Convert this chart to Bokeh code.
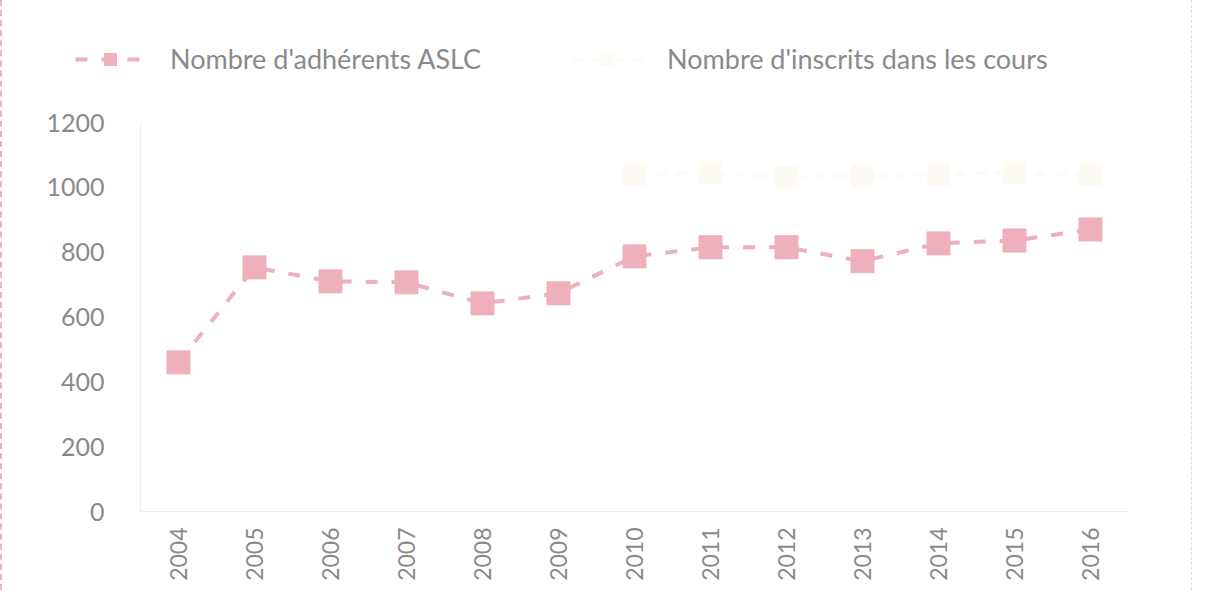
from bokeh.plotting import figure
from bokeh.layouts import column, row
from bokeh.models import FactorRange, Range1d, Legend, LegendItem, ColumnDataSource, FixedTicker
from bokeh.embed import file_html
from bokeh.resources import INLINE

years = ["2004", "2005", "2006", "2007", "2008", "2009", "2010",
         "2011", "2012", "2013", "2014", "2015", "2016"]
adherents = [460, 753, 710, 707, 642, 673, 787, 815, 815, 772, 827, 836, 870]
inscrits_years = ["2010", "2011", "2012", "2013", "2014", "2015", "2016"]
inscrits = [1040, 1045, 1030, 1035, 1040, 1045, 1040]
y_ticks = [0, 200, 400, 600, 800, 1000, 1200]
series_names = ["Nombre d'adhérents ASLC", "Nombre d'inscrits dans les cours"]

PINK = "#edb0bc"
FAINT = "#fcfaf2"
TEXT = "#8a8a8a"
FONT = "Lato"

src1 = ColumnDataSource(dict(x=years, y=adherents))
src2 = ColumnDataSource(dict(x=inscrits_years, y=inscrits))

# main chart
p = figure(width=1189, height=500, x_range=FactorRange(factors=years, range_padding=0),
           y_range=Range1d(0, 1200), output_backend="svg", toolbar_location=None,
           min_border_left=138, min_border_right=63, min_border_top=32, min_border_bottom=79)
p.outline_line_color = None
p.xgrid.grid_line_color = None
p.ygrid.grid_line_color = None

p.line("x", "y", source=src2, line_color=FAINT, line_width=4, line_dash="12 8")
p.scatter("x", "y", source=src2, marker="square", size=22, fill_color=FAINT, line_color=FAINT)
p.line("x", "y", source=src1, line_color=PINK, line_width=4, line_dash="12 14")
p.scatter("x", "y", source=src1, marker="square", size=23, fill_color=PINK, line_color=PINK)

p.yaxis.ticker = FixedTicker(ticks=y_ticks)
p.yaxis.major_label_text_font = FONT
p.yaxis.major_label_text_font_size = "25px"
p.yaxis.major_label_text_color = TEXT
p.yaxis.major_label_standoff = 30
p.yaxis.major_tick_line_color = None
p.yaxis.minor_tick_line_color = None
p.yaxis.axis_line_color = "#eeeeee"

p.xaxis.major_label_orientation = 1.5708
p.xaxis.major_label_text_font = FONT
p.xaxis.major_label_text_font_size = "23px"
p.xaxis.major_label_text_color = TEXT
p.xaxis.major_label_standoff = 10
p.xaxis.major_tick_line_color = None
p.xaxis.axis_line_color = "#eeeeee"

# legend strip above the chart (same series, drawn out of view; only the legend shows)
pl = figure(width=1189, height=90, x_range=FactorRange(factors=years, range_padding=0),
            y_range=Range1d(-2, -1), output_backend="svg", toolbar_location=None, min_border=0,
            x_axis_location=None, y_axis_location=None)
pl.outline_line_color = None
pl.xgrid.grid_line_color = None
pl.ygrid.grid_line_color = None
a1 = pl.line("x", "y", source=src1, line_color=PINK, line_width=4, line_dash="12 14")
b1 = pl.scatter("x", "y", source=src1, marker="square", size=23, fill_color=PINK, line_color=PINK)
a2 = pl.line("x", "y", source=src2, line_color=FAINT, line_width=4, line_dash="12 8")
b2 = pl.scatter("x", "y", source=src2, marker="square", size=22, fill_color=FAINT, line_color=FAINT)

legend = Legend(items=[LegendItem(label=series_names[0], renderers=[a1, b1]),
                       LegendItem(label=series_names[1], renderers=[a2, b2])],
                orientation="horizontal", location=(73, 15), padding=0, margin=0,
                glyph_width=70, glyph_height=30, label_standoff=25, spacing=91,
                label_text_font=FONT, label_text_font_size="27px", label_text_color=TEXT,
                border_line_color=None, background_fill_alpha=0)
pl.add_layout(legend, "center")

layout = column(row(pl), p, spacing=0)
layout.styles = {"border-left": "2px dashed #e2b4cc", "border-right": "1px dashed #f2d4de"}

open("out.html", "w").write(file_html(layout, INLINE))
